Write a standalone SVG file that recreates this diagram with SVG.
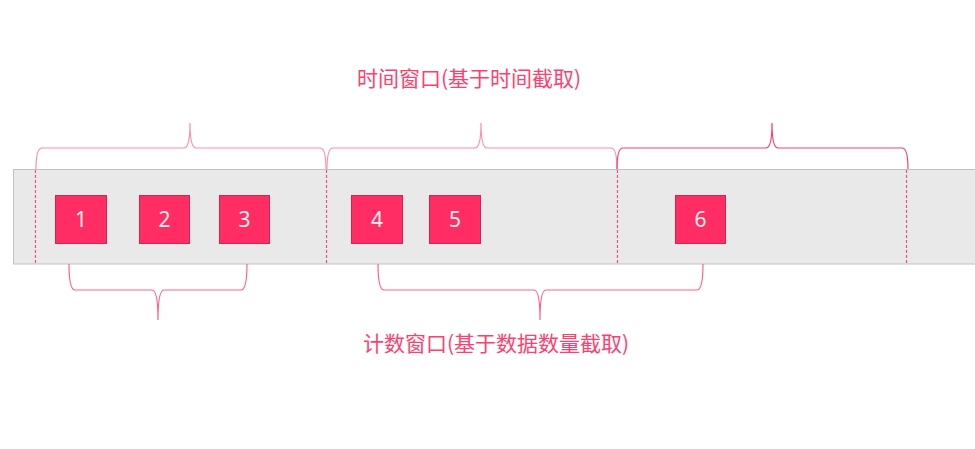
<svg xmlns="http://www.w3.org/2000/svg" width="975" height="449" viewBox="0 0 975 449">
<style>
.box{fill:#ff2d63;stroke:#d8224f;stroke-width:1}
.num{font-family:"Noto Sans","Open Sans",sans-serif;font-size:21px;fill:#f4f0f0;text-anchor:middle}
.lbl{font-family:"Noto Sans CJK SC","Noto Sans",sans-serif;font-size:21px;fill:#ff3f70;text-anchor:middle}
.dash{stroke:#ff4673;stroke-width:1.1;stroke-dasharray:3,2;fill:none}
.br{fill:none;stroke-width:1.2}
</style>
<rect width="975" height="449" fill="#ffffff"/>
<g id="stream">
<rect x="13.5" y="169.5" width="970" height="94.5" fill="#e9e9e9" stroke="#c2c2c2" stroke-width="1"/>
</g>
<g id="connectors">
<line class="dash" x1="35.5" y1="170" x2="35.5" y2="264"/>
<line class="dash" x1="326.5" y1="170" x2="326.5" y2="264"/>
<line class="dash" x1="617.5" y1="170" x2="617.5" y2="264"/>
<line class="dash" x1="906.5" y1="170" x2="906.5" y2="264"/>
<path class="br" stroke="#ff8fa9" d="M36,169 Q36,148 42,148 L184,148 Q190,148 190,123 Q190,148 196,148 L320,148 Q326,148 326,169"/>
<path class="br" stroke="#ff8fa9" d="M327,169 Q327,148 333,148 L475,148 Q481,148 481,123 Q481,148 487,148 L611,148 Q617,148 617,169"/>
<path class="br" stroke="#f2426c" d="M617,169 Q617,148 623,148 L766,148 Q772,148 772,123 Q772,148 778,148 L902,148 Q908,148 908,169"/>
<path class="br" stroke="#ff6186" d="M69,264 Q69,290 75,290 L152,290 Q158,290 158,320 Q158,290 164,290 L241,290 Q247,290 247,264"/>
<path class="br" stroke="#ff6186" d="M378,264 Q378,290 384,290 L534,290 Q540,290 540,320 Q540,290 546,290 L697,290 Q703,290 703,264"/>
</g>
<g id="n1"><rect class="box" x="55.5" y="195.5" width="51" height="48"/><text class="num" x="81" y="226.5">1</text></g>
<g id="n2"><rect class="box" x="139.5" y="195.5" width="50" height="48"/><text class="num" x="164.5" y="226.5">2</text></g>
<g id="n3"><rect class="box" x="219.5" y="195.5" width="50" height="48"/><text class="num" x="244.5" y="226.5">3</text></g>
<g id="n4"><rect class="box" x="351.5" y="195.5" width="51" height="48"/><text class="num" x="377" y="226.5">4</text></g>
<g id="n5"><rect class="box" x="429.5" y="195.5" width="51" height="48"/><text class="num" x="455" y="226.5">5</text></g>
<g id="n6"><rect class="box" x="675.5" y="195.5" width="50" height="48"/><text class="num" x="700.5" y="226.5">6</text></g>
<g id="time-label"><text class="lbl" x="469" y="86">时间窗口(基于时间截取)</text></g>
<g id="count-label"><text class="lbl" x="496" y="351">计数窗口(基于数据数量截取)</text></g>
</svg>
